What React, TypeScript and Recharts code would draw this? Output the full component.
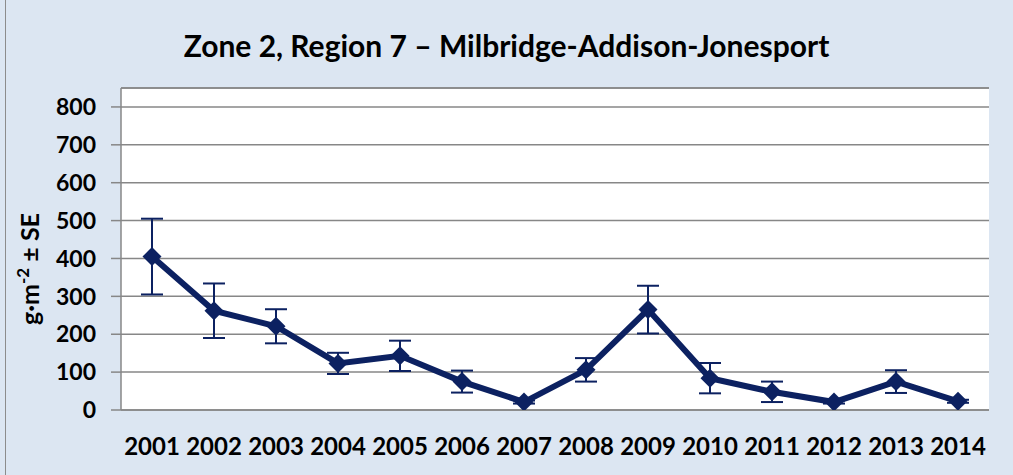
import { ComposedChart, Line, XAxis, YAxis, CartesianGrid, ErrorBar, ReferenceLine, Label } from 'recharts';

const years = ['2001', '2002', '2003', '2004', '2005', '2006', '2007', '2008', '2009', '2010', '2011', '2012', '2013', '2014'];
const biomass = [405, 262, 221, 123, 143, 75, 21, 106, 265, 84, 48, 21, 75, 23];
const stdErr = [100, 72, 45, 28, 40, 29, 4, 31, 63, 40, 27, 4, 30, 4];
const yTicks = [0, 100, 200, 300, 400, 500, 600, 700, 800];

const data = years.map((year, i) => ({ year, value: biomass[i], se: stdErr[i] }));

const NAVY = '#0c2161';
const GRID = '#878787';
const FONT = 'Lato, "Open Sans", sans-serif';

// diamond marker like the Excel one
const Diamond = (props: any) => {
    const { cx, cy } = props;
    if (cx == null || cy == null) return null;
    const r = 9.5;
    return <polygon points={`${cx},${cy - r} ${cx + r},${cy} ${cx},${cy + r} ${cx - r},${cy}`} fill={NAVY} />;
};

const YTitle = (props: any) => {
    const vb = props.viewBox || {};
    const cy = vb.y + vb.height / 2 + 20;
    const x = 39;
    return (
        <text x={x} y={cy} transform={`rotate(-90, ${x}, ${cy})`} textAnchor="middle"
            style={{ fontFamily: FONT, fontWeight: 700, fontSize: 25, fill: '#000' }}>
            <tspan>g·m</tspan>
            <tspan dy={-10} fontSize={17}>-2</tspan>
            <tspan dy={10}> ± SE</tspan>
        </text>
    );
};

export default function App() {
    return (
        <div style={{ position: 'absolute', left: 0, top: 0, width: 1013, height: 475, background: '#dce6f2', overflow: 'hidden' }}>
            <div style={{ position: 'absolute', left: 5, top: 0, width: 1, height: 475, background: '#8c8c8c' }} />
            <div style={{
                position: 'absolute', left: 0, top: 25, width: 1013, textAlign: 'center',
                fontFamily: FONT, fontWeight: 700, fontSize: 30, color: '#000', lineHeight: '40px',
            }}>
                Zone 2, Region 7 – Milbridge-Addison-Jonesport
            </div>
            <div style={{ position: 'absolute', left: 0, top: 0 }}>
                <ComposedChart width={1013} height={475} data={data} margin={{ top: 88, right: 24, bottom: 0, left: 50 }}>
                    <CartesianGrid vertical={false} stroke={GRID} strokeWidth={1.5} fill="#ffffff" fillOpacity={1} />
                    <XAxis
                        dataKey="year"
                        height={65}
                        padding={{ left: 31, right: 31 }}
                        tickLine={false}
                        tickSize={0}
                        tickMargin={28}
                        axisLine={{ stroke: GRID, strokeWidth: 1.5 }}
                        tick={{ fill: '#000', fontFamily: FONT, fontWeight: 700, fontSize: 24 }}
                        interval={0}
                    />
                    <YAxis
                        width={71}
                        domain={[0, 850]}
                        ticks={yTicks}
                        allowDataOverflow
                        tickSize={10}
                        tickMargin={15}
                        tickLine={{ stroke: GRID, strokeWidth: 1.5 }}
                        axisLine={{ stroke: GRID, strokeWidth: 1.5 }}
                        tick={{ fill: '#000', fontFamily: FONT, fontWeight: 700, fontSize: 23 }}
                    >
                        <Label content={<YTitle />} />
                    </YAxis>
                    <YAxis yAxisId="frame" orientation="right" width={0} domain={[0, 850]} tick={false} tickLine={false}
                        axisLine={{ stroke: GRID, strokeWidth: 1.5 }} />
                    <ReferenceLine y={850} stroke={GRID} strokeWidth={1.5} />
                    <Line
                        dataKey="value"
                        stroke={NAVY}
                        strokeWidth={6}
                        dot={<Diamond />}
                        activeDot={false}
                        isAnimationActive={false}
                    >
                        <ErrorBar dataKey="se" width={11} stroke={NAVY} strokeWidth={2} direction="y" isAnimationActive={false} />
                    </Line>
                </ComposedChart>
            </div>
        </div>
    );
}
